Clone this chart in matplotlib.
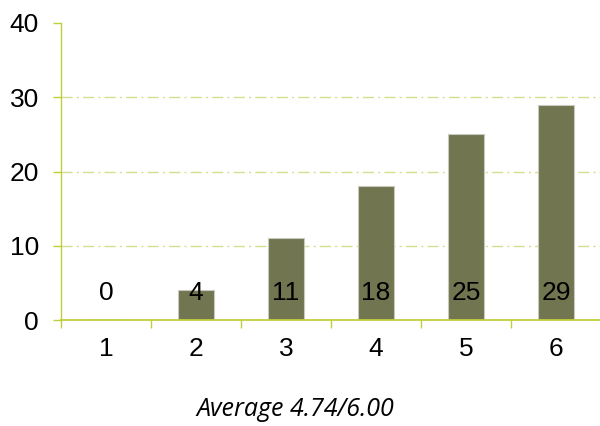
import matplotlib.pyplot as plt
import numpy as np

# data
categories = ["1", "2", "3", "4", "5", "6"]
counts = [0, 4, 11, 18, 25, 29]
yticks = [0, 10, 20, 30, 40]
footer = "Average 4.74/6.00"

bar_col = "#717550"
axis_col = "#BFCF3A"
grid_col = "#D5DE8E"

fig = plt.figure(figsize=(6, 4.26), dpi=100)
ax = fig.add_axes([61/600, 1-320/426, 540/600, 297/426])

x = np.arange(len(categories))
ax.bar(x, counts, width=0.4, color=bar_col, edgecolor="#c9c9bd", linewidth=0.8, zorder=2)

# value labels sit at a fixed height near the bottom
for xi, v in zip(x, counts):
    ax.text(xi, 3.6, str(v), ha="center", va="center", fontsize=19,
            family="Liberation Sans", color="black", zorder=3)

ax.set_xlim(-0.5, len(categories) - 0.5)
ax.set_ylim(0, 40)
ax.set_yticks(yticks)
ax.set_yticklabels([str(t) for t in yticks], fontsize=19, family="Liberation Sans")
for t in yticks[1:-1]:
    ax.axhline(t, color=grid_col, linestyle=(0, (8, 3, 1.5, 3)), linewidth=1, zorder=1)

# ticks at category boundaries, labels at centres
ax.set_xticks(np.arange(len(categories) + 1) - 0.5)
ax.set_xticklabels([])
ax.set_xticks(x, minor=True)
ax.set_xticklabels(categories, minor=True, fontsize=19, family="Liberation Sans")
ax.tick_params(axis="x", which="major", direction="out", length=6, color=axis_col, width=1)
ax.tick_params(axis="x", which="minor", length=0, pad=12)
ax.tick_params(axis="y", direction="out", length=6, color=axis_col, width=1, pad=10)

for s in ["top", "right"]:
    ax.spines[s].set_visible(False)
ax.spines["left"].set_color(axis_col)
ax.spines["bottom"].set_color(axis_col)
ax.spines["left"].set_linewidth(1)
ax.spines["bottom"].set_linewidth(1.3)

fig.text(295/600, 1-410/426, footer, ha="center", va="center", fontsize=18,
         family="Open Sans", style="italic")

plt.savefig("out.png", dpi=100)
